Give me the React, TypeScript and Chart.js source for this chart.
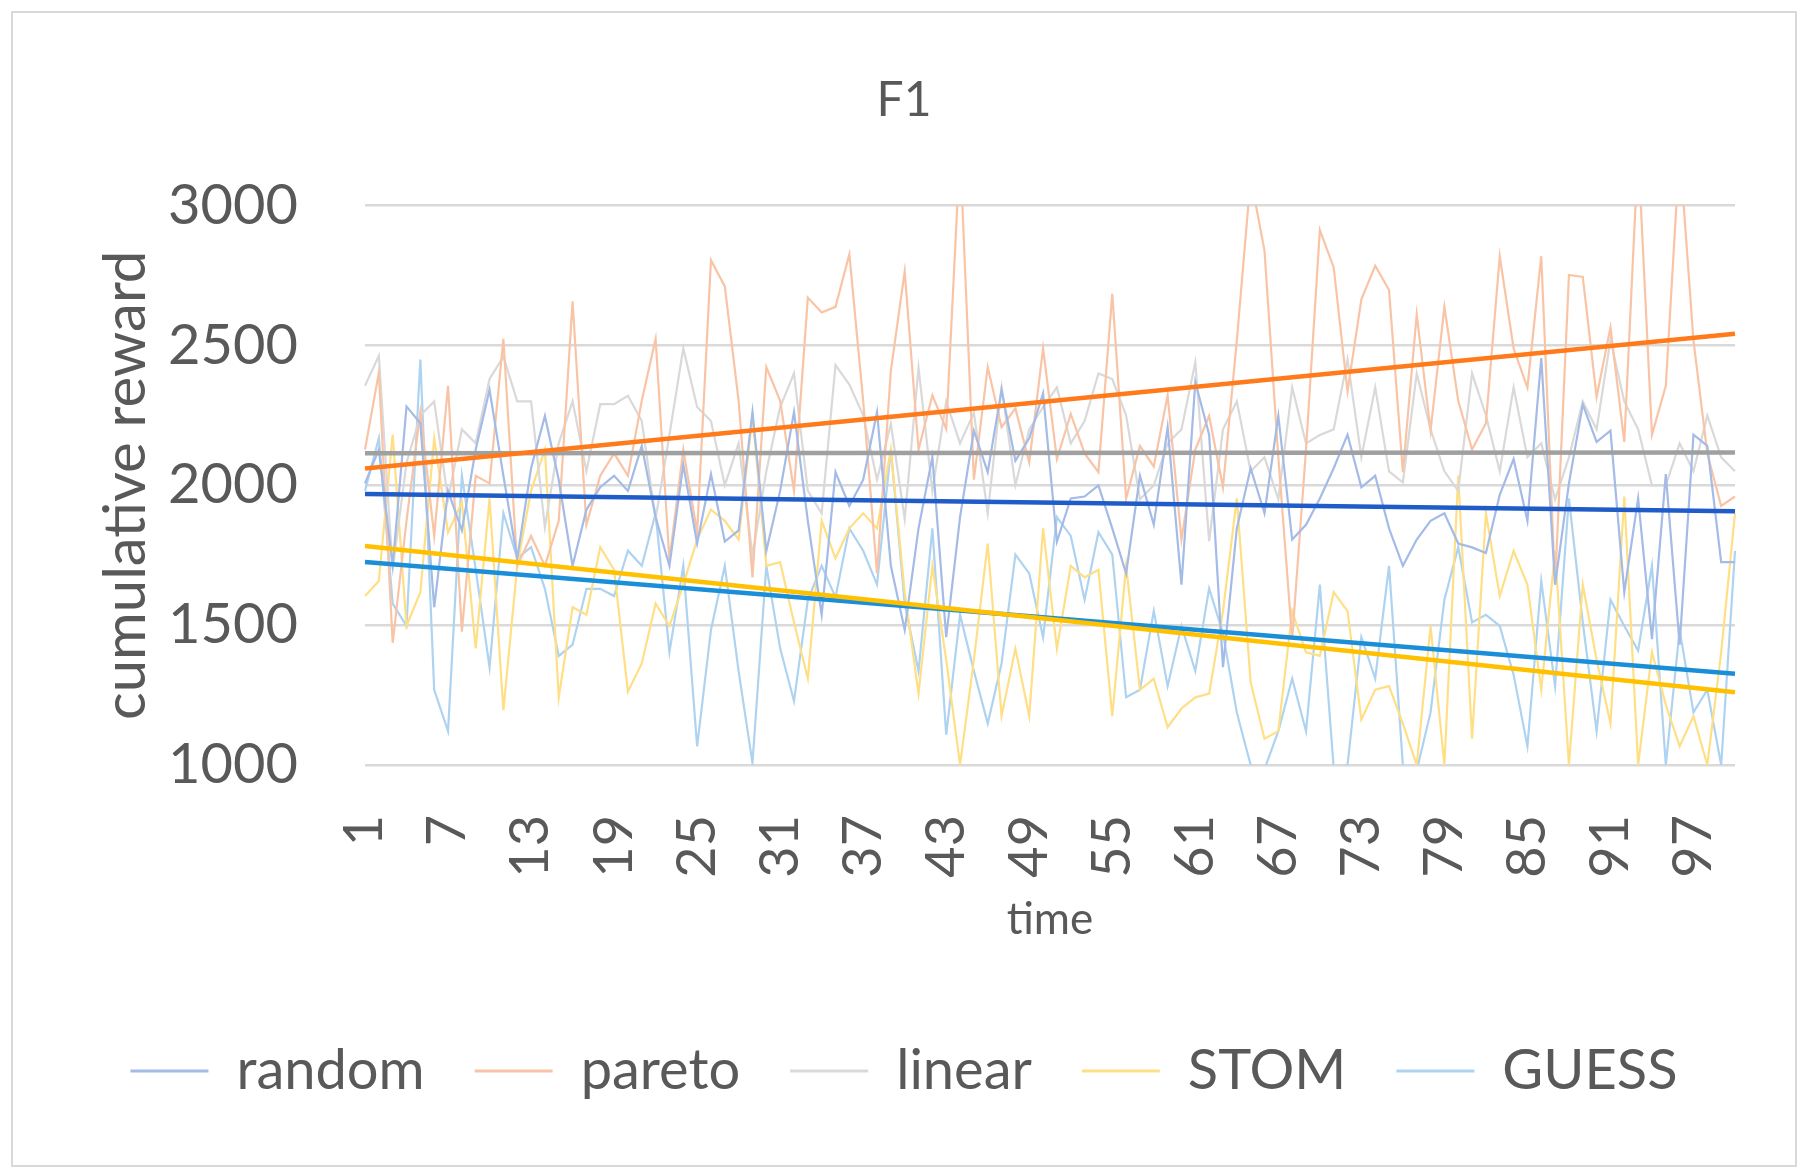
import { useEffect, useRef } from 'react'
import { Chart, registerables } from 'chart.js'

Chart.register(...registerables)

// time steps 1..100, only every 6th one is labelled
const categories = Array.from({ length: 100 }, (_, i) => String(i + 1))
const shownTicks = ['1', '7', '13', '19', '25', '31', '37', '43', '49', '55', '61', '67', '73', '79', '85', '91', '97']
const yTicks = [1000, 1500, 2000, 2500, 3000]

const seriesNames = ['random', 'pareto', 'linear', 'STOM', 'GUESS']

const random = [
  2007, 2128, 1712, 2282, 2222, 1564, 1980, 1839, 2128, 2342,
  2034, 1739, 2061, 2248, 2020, 1712, 1913, 1993, 2034, 1980,
  2141, 1886, 1712, 2074, 1792, 2040, 1799, 1839, 2262, 1765,
  1980, 2262, 1873, 1537, 2047, 1926, 2020, 2262, 1712, 1483,
  1846, 2101, 1457, 1886, 2195, 2047, 2342, 2088, 2168, 2329,
  1799, 1953, 1960, 2000, 1846, 1685, 2034, 1859, 2208, 1645,
  2369, 2181, 1350, 1846, 2061, 1900, 2248, 1806, 1859, 1953,
  2061, 2181, 1993, 2034, 1846, 1712, 1806, 1873, 1900, 1792,
  1778, 1758, 1966, 2094, 1873, 2455, 1645, 2007, 2289, 2155,
  2195, 1618, 1953, 1450, 2040, 1430, 2181, 2141, 1725, 1725,
]

const pareto = [
  2128, 2403, 1437, 1873, 2262, 1819, 2356, 1477, 2034, 2007,
  2524, 1712, 1819, 1712, 1873, 2658, 1859, 2034, 2114, 2034,
  2302, 2524, 1732, 2128, 1832, 2805, 2711, 2302, 1671, 2423,
  2302, 1980, 2671, 2618, 2638, 2826, 2302, 1685, 2410, 2765,
  2128, 2322, 2201, 3200, 2020, 2423, 2208, 2275, 2081, 2490,
  2094, 2255, 2114, 2047, 2685, 1953, 2141, 2067, 2322, 1806,
  2128, 2248, 1993, 2517, 3100, 2839, 2100, 1450, 2128, 2913,
  2779, 2336, 2665, 2785, 2698, 2047, 2611, 2195, 2638, 2302,
  2128, 2222, 2819, 2490, 2349, 2819, 1645, 2752, 2745, 2316,
  2564, 2155, 3200, 2181, 2356, 3200, 2517, 2114, 1926, 1960,
]

const linear = [
  2356, 2463, 1700, 2080, 2250, 2300, 1950, 2200, 2150, 2380,
  2460, 2300, 2300, 1850, 2150, 2300, 2050, 2290, 2290, 2320,
  2230, 1880, 2180, 2490, 2280, 2230, 2000, 2150, 1750, 2050,
  2280, 2400, 1980, 1900, 2430, 2360, 2250, 2020, 2220, 1880,
  2420, 1980, 2300, 2150, 2260, 1900, 2350, 2000, 2200, 2280,
  2350, 2150, 2230, 2400, 2380, 2250, 1950, 2000, 2150, 2200,
  2440, 1800, 2200, 2300, 2050, 2100, 1950, 2350, 2150, 2180,
  2200, 2450, 2100, 2350, 2050, 2010, 2400, 2200, 2050, 1980,
  2400, 2250, 2050, 2350, 2100, 2150, 1950, 2100, 2300, 2200,
  2520, 2300, 2200, 2000, 2000, 2150, 2050, 2250, 2100, 2050,
]

const stom = [
  1604, 1658, 2181, 1497, 1618, 2168, 1832, 1940, 1417, 1953,
  1195, 1712, 1980, 2128, 1242, 1564, 1537, 1779, 1698, 1262,
  1363, 1577, 1497, 1645, 1806, 1913, 1873, 1806, 2248, 1712,
  1725, 1510, 1309, 1873, 1739, 1846, 1900, 1846, 2128, 1618,
  1255, 1712, 1376, 1000, 1376, 1792, 1175, 1416, 1175, 1846,
  1416, 1712, 1671, 1698, 1175, 1712, 1269, 1309, 1135, 1202,
  1242, 1255, 1550, 1953, 1296, 1094, 1121, 1550, 1403, 1390,
  1618, 1550, 1162, 1269, 1282, 1148, 1000, 1497, 1000, 2034,
  1094, 1900, 1604, 1765, 1645, 1269, 1765, 1000, 1645, 1376,
  1148, 1960, 1000, 1403, 1215, 1067, 1175, 1000, 1403, 1900,
]

const guess = [
  1980, 2168, 1577, 1497, 2450, 1269, 1121, 2034, 1700, 1349,
  1900, 1739, 1779, 1630, 1390, 1430, 1630, 1630, 1604, 1766,
  1712, 1900, 1403, 1712, 1067, 1483, 1712, 1335, 1007, 1712,
  1417, 1228, 1590, 1712, 1600, 1846, 1766, 1645, 2128, 1577,
  1336, 1846, 1108, 1537, 1336, 1148, 1363, 1752, 1685, 1457,
  1886, 1819, 1591, 1832, 1752, 1242, 1269, 1551, 1282, 1497,
  1336, 1631, 1470, 1188, 1000, 985, 1121, 1309, 1121, 1645,
  990, 1000, 1457, 1309, 1712, 1000, 980, 1188, 1591, 1779,
  1510, 1537, 1497, 1323, 1067, 1658, 1282, 1953, 1510, 1121,
  1591, 1497, 1409, 1712, 1000, 1483, 1188, 1269, 1000, 1765,
]

// linear trendlines, value at t=1 and t=100 (same order as seriesNames)
const trendStart = [1969, 2060, 2115, 1783, 1726]
const trendEnd = [1907, 2542, 2117, 1260, 1326]

const lineColors = ['#a3bbe6', '#f9c4a6', '#d9d9d9', '#ffdf85', '#aed3f0']
const trendColors = ['#1f5cc8', '#ff7a1a', '#a0a0a0', '#ffc000', '#1a8fd8']

const textColor = '#595959'
const family = 'Lato, "Noto Sans", sans-serif'

export default function App() {
  const ref = useRef<HTMLCanvasElement>(null)

  useEffect(() => {
    const values = [random, pareto, linear, stom, guess]
    const series = values.map((data, i) => ({
      label: seriesNames[i],
      data,
      borderColor: lineColors[i],
      backgroundColor: lineColors[i],
      borderWidth: 2.2,
      pointRadius: 0,
      tension: 0,
      order: 1,
    }))
    const trends = trendStart.map((start, i) => ({
      label: seriesNames[i] + ' trend',
      data: categories.map((_, j) => (j === 0 ? start : j === categories.length - 1 ? trendEnd[i] : null)),
      borderColor: trendColors[i],
      backgroundColor: trendColors[i],
      borderWidth: 4.5,
      pointRadius: 0,
      spanGaps: true,
      order: 0,
    }))

    const chart = new Chart(ref.current, {
      type: 'line',
      data: { labels: categories, datasets: [...series, ...trends] },
      options: {
        animation: false,
        responsive: false,
        maintainAspectRatio: false,
        layout: { padding: { left: 0, right: 0, top: 0, bottom: 56 } },
        plugins: {
          tooltip: { enabled: false },
          title: {
            display: true,
            text: 'F1',
            color: textColor,
            font: { size: 48, family, weight: 'normal' },
            padding: { top: 59, bottom: 76 },
          },
          legend: {
            position: 'bottom',
            labels: {
              boxWidth: 78,
              boxHeight: 3,
              padding: 50,
              color: textColor,
              font: { size: 56, family },
              generateLabels: (c) =>
                c.data.datasets.map((ds, i) => ({
                  text: ds.label,
                  fillStyle: ds.borderColor,
                  strokeStyle: ds.borderColor,
                  lineWidth: 0,
                  hidden: false,
                  datasetIndex: i,
                  fontColor: textColor,
                })),
              filter: (item) => item.datasetIndex < seriesNames.length,
            },
          },
        },
        scales: {
          x: {
            offset: false,
            grid: { display: false },
            border: { display: false },
            ticks: {
              autoSkip: false,
              minRotation: 90,
              maxRotation: 90,
              padding: 42,
              color: textColor,
              font: { size: 54, family },
              callback: (_v, i) => (shownTicks.includes(categories[i]) ? categories[i] : ''),
            },
            title: {
              display: true,
              text: 'time',
              color: textColor,
              font: { size: 44, family },
              padding: { top: 0, bottom: 47 },
            },
            afterFit: (s) => {
              s.height = 228
              s.paddingLeft = 0
              s.paddingRight = 0
            },
          },
          y: {
            min: 1000,
            max: 3000,
            afterBuildTicks: (s) => {
              s.ticks = yTicks.map((v) => ({ value: v }))
            },
            grid: { color: '#d9d9d9', lineWidth: 2.5, drawTicks: false },
            border: { display: false },
            ticks: {
              padding: 67,
              color: textColor,
              font: { size: 56, family },
              callback: (v) => String(v),
            },
            title: {
              display: true,
              text: 'cumulative reward',
              color: textColor,
              font: { size: 58, family },
              padding: 78,
            },
            afterFit: (s) => {
              s.width = 352
            },
          },
          // empty right-hand strip so the plot ends where the reference's does
          spacer: {
            type: 'linear',
            position: 'right',
            grid: { display: false },
            border: { display: false },
            ticks: { display: false },
            afterFit: (s) => {
              s.width = 60
            },
          },
        },
      },
    })
    return () => chart.destroy()
  }, [])

  return (
    <div style={{ paddingTop: 3, paddingLeft: 3 }}>
      <div style={{ position: 'relative', width: 1782, height: 1152, border: '2px solid #d9d9d9', background: '#fff' }}>
        <canvas ref={ref} width={1782} height={1152} style={{ position: 'absolute', left: 0, top: 0 }}></canvas>
      </div>
    </div>
  )
}
